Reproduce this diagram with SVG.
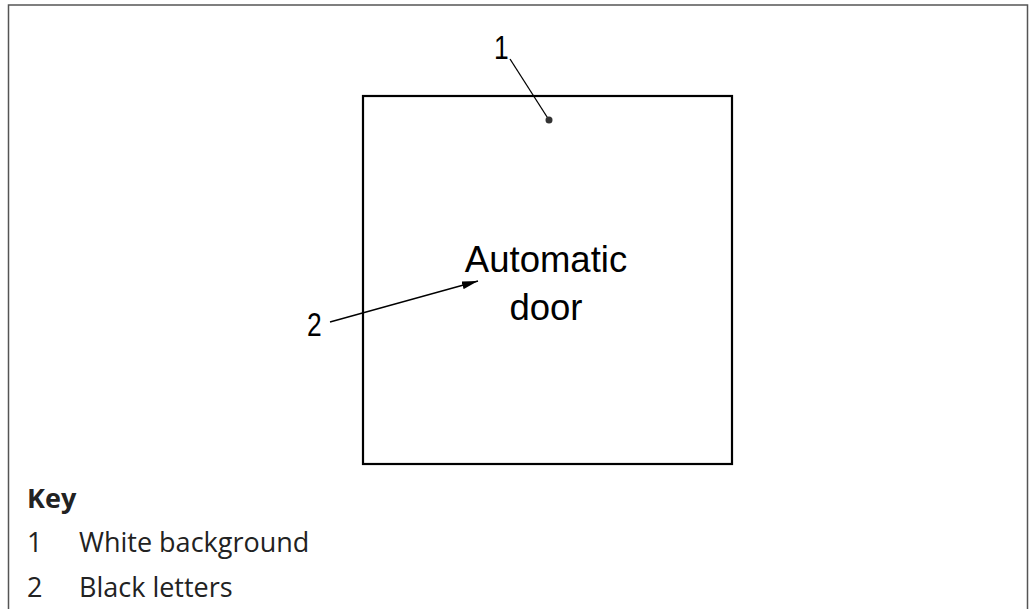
<svg xmlns="http://www.w3.org/2000/svg" width="1029" height="609" viewBox="0 0 1029 609">
<style>
.lbl{font-family:"Liberation Sans",Arial,sans-serif;font-size:33px;fill:#000}
.door{font-family:"Liberation Sans",Arial,sans-serif;font-size:36.5px;fill:#000;text-anchor:middle}
.key{font-family:"Open Sans","Noto Sans",sans-serif;font-size:27px;fill:#222}
.lead{stroke:#000;stroke-width:1.3;fill:none}
</style>
<defs>
<marker id="ah" markerWidth="16" markerHeight="8" refX="16" refY="4" orient="auto" markerUnits="userSpaceOnUse">
<path d="M0,0 L16,4 L0,8 Z" fill="#000"/>
</marker>
</defs>
<rect width="1029" height="609" fill="#fff"/>
<path d="M8.5,609 V5 H1027.5 V609" fill="none" stroke="#555" stroke-width="1.5"/>
<g id="sign">
<rect x="363" y="96" width="369" height="368" fill="#fff" stroke="#000" stroke-width="2.2"/>
<text class="door" x="546" y="272">Automatic</text>
<text class="door" x="546" y="320">door</text>
</g>
<g id="connectors">
<line class="lead" x1="510" y1="59" x2="549" y2="120"/>
<circle cx="549" cy="120" r="3.5" fill="#333"/>
<line class="lead" x1="330" y1="322" x2="478" y2="281" marker-end="url(#ah)"/>
</g>
<g id="label1"><text class="lbl" transform="translate(494,59) scale(0.8,1)">1</text></g>
<g id="label2"><text class="lbl" transform="translate(307,336) scale(0.8,1)">2</text></g>
<g id="key">
<text class="key" x="27" y="508" font-weight="bold">Key</text>
<text class="key" x="27" y="552">1</text>
<text class="key" x="79" y="552">White background</text>
<text class="key" x="27" y="597">2</text>
<text class="key" x="79" y="597">Black letters</text>
</g>
</svg>
